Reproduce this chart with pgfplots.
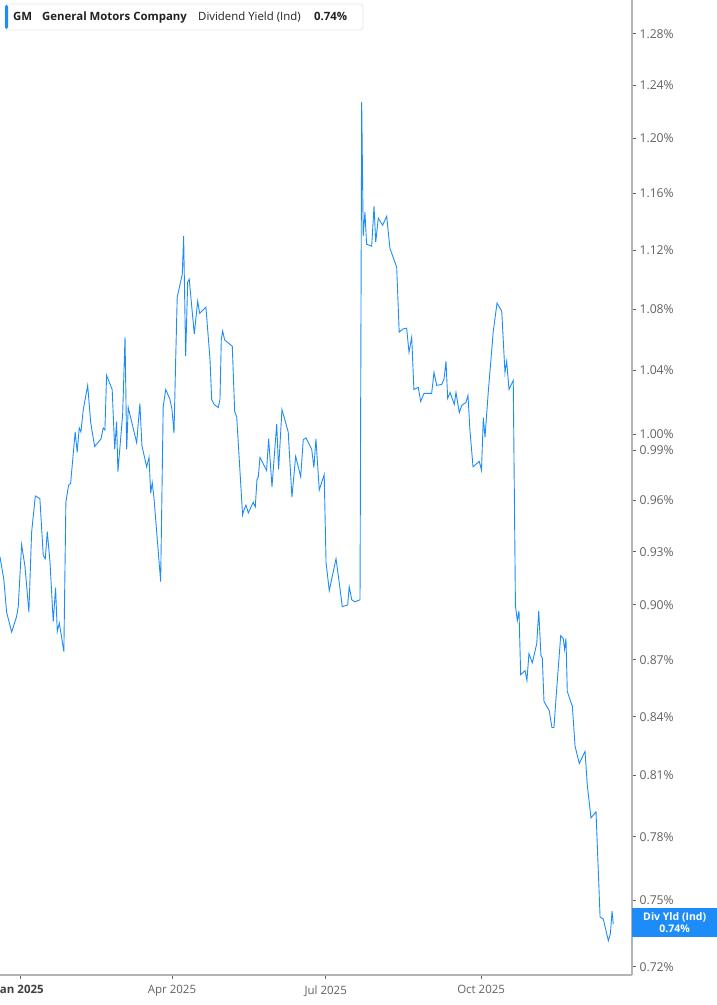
\documentclass[border=0pt]{standalone}
\usepackage{fontspec}
\setmainfont{Open Sans}
\usepackage{pgfplots}
\pgfplotsset{compat=1.18}

\definecolor{gmblue}{HTML}{1E8CF8}
\definecolor{axgray}{HTML}{B4B4B4}
\definecolor{lblgray}{HTML}{626262}
\definecolor{titletext}{HTML}{222222}

\begin{document}
\begin{tikzpicture}
\useasboundingbox (0bp,0bp) rectangle (717bp,1005bp);
\begin{axis}[
  at={(0bp,30bp)}, anchor=south west,
  scale only axis, width=632bp, height=975bp,
  xmin=-11.8, xmax=362.3,
  ymode=log, ymin=0.7163, ymax=1.307,
  axis x line*=bottom, axis y line*=right,
  axis line style={axgray, line width=1.3bp},
  xtick={0,90,181,273},
  xticklabels={{\bfseries\color{black!75}Jan 2025},Apr 2025,Jul 2025,Oct 2025},
  xticklabel style={yshift=-3bp},
  ytick={0.72,0.75,0.78,0.81,0.84,0.87,0.90,0.93,0.96,0.99,1.00,1.04,1.08,1.12,1.16,1.20,1.24,1.28},
  yticklabels={0.72\%,0.75\%,0.78\%,0.81\%,0.84\%,0.87\%,0.90\%,0.93\%,0.96\%,0.99\%,1.00\%,1.04\%,1.08\%,1.12\%,1.16\%,1.20\%,1.24\%,1.28\%},
  yticklabel style={font=\fontsize{12.2bp}{13bp}\selectfont},
  yminorticks=false, xminorticks=false,
  tick style={lblgray, line width=0.8bp},
  major tick length=4bp,
  tick align=outside,
  ticklabel style={font=\fontsize{11.5bp}{13bp}\selectfont, text=lblgray},
]
% dividend yield, % (x = days since 1 Jan 2025)
\addplot[gmblue, line width=0.9bp] coordinates {
(-11.8,0.927) (-9.5,0.914) (-7.9,0.896) (-4.9,0.885) (-2.0,0.8935) (-1.0,0.899)
(1.0,0.934) (3.0,0.9215) (5.3,0.896) (6.9,0.941) (9.1,0.9625) (11.8,0.961)
(13.8,0.928) (15.0,0.926) (16.2,0.9415) (17.8,0.924) (19.7,0.8907) (21.1,0.9096)
(22.1,0.8853) (23.3,0.890) (26.0,0.8744) (27.2,0.9588) (28.8,0.969) (30.0,0.970)
(32.7,1.0013) (33.9,0.9888) (35.1,1.0038) (36.1,1.0013) (37.5,1.0152) (40.1,1.0305)
(41.9,1.007) (44.2,0.9924) (48.0,0.997) (49.3,1.0038) (50.3,1.0025) (51.3,1.0368)
(54.6,1.0279) (56.1,0.9906) (57.2,1.0076) (58.0,0.9771) (60.8,1.012) (62.2,1.0616)
(63.2,0.9906) (64.1,1.0165) (69.1,0.9947) (71.0,1.019) (72.2,0.9929) (75.0,0.980)
(76.4,0.9857) (77.4,0.9643) (78.3,0.9704) (79.3,0.9618) (83.3,0.913) (84.8,1.017)
(86.3,1.0279) (88.8,1.0216) (90.0,1.0152) (91.2,1.0006) (92.2,1.0472) (93.1,1.0881)
(96.1,1.1037) (96.9,1.1298) (98.1,1.0492) (99.3,1.0983) (100.2,1.1003) (103.2,1.0636)
(105.2,1.0854) (106.4,1.0774) (110.1,1.0814) (112.5,1.0472) (113.5,1.0216) (115.0,1.0184)
(117.4,1.0165) (118.4,1.0216) (119.2,1.0603) (120.0,1.0656) (121.2,1.0597) (125.7,1.0557)
(127.1,1.014) (128.3,1.0108) (131.8,0.9513) (132.6,0.9542) (133.8,0.9571) (135.2,0.9525)
(138.1,0.9588) (139.3,0.956) (140.3,0.9722) (141.1,0.974) (142.1,0.9857) (146.0,0.9777)
(147.2,0.9971) (149.2,0.968) (152.0,1.0063) (153.1,0.9784) (155.1,1.0152) (158.8,1.0013)
(161.0,0.9618) (163.2,0.9863) (166.2,0.974) (167.7,0.9965) (169.3,0.9976) (172.7,0.9906)
(174.0,0.9796) (175.2,0.997) (177.2,0.9661) (180.1,0.9753) (181.2,0.9238) (183.1,0.9079)
(187.1,0.926) (189.0,0.9124) (190.8,0.899) (194.0,0.900) (194.9,0.9102) (196.4,0.9028)
(198.3,0.9017) (201.3,0.9028) (202.3,1.2272) (203.2,1.1298) (204.2,1.1467) (205.2,1.1242)
(208.2,1.1228) (209.6,1.1509) (210.6,1.1256) (212.1,1.1424) (214.7,1.1375) (217.1,1.1438)
(219.0,1.1214) (223.0,1.1085) (224.5,1.0649) (226.6,1.0669) (228.9,1.0675) (230.3,1.0518)
(231.9,1.0616) (233.2,1.0279) (235.8,1.0292) (237.2,1.0203) (239.2,1.0254) (243.7,1.0254)
(245.1,1.0387) (246.7,1.0305) (249.6,1.0311) (251.0,1.0343) (252.2,1.0459) (253.2,1.0222)
(254.6,1.026) (257.1,1.0184) (258.1,1.026) (260.1,1.0133) (261.5,1.0178) (264.0,1.0197)
(265.2,1.0241) (266.4,1.0019) (268.2,0.980) (271.9,0.9833) (273.2,0.978) (274.3,1.0102)
(275.3,0.998) (277.2,1.026) (280.2,1.0656) (282.4,1.0841) (285.2,1.0787) (287.1,1.0387)
(288.1,1.0459) (289.5,1.0279) (292.0,1.0337) (293.3,0.8995) (294.4,0.8913) (295.4,0.8967)
(296.4,0.8621) (299.0,0.8642) (300.1,0.859) (301.3,0.8733) (303.3,0.8684) (305.9,0.8787)
(307.1,0.8967) (308.4,0.8722) (309.2,0.8711) (310.2,0.8479) (313.3,0.8432) (314.9,0.8344)
(316.1,0.8344) (317.7,0.8542) (320.1,0.8831) (321.6,0.8815) (322.4,0.8755) (323.2,0.8815)
(324.0,0.8532) (327.0,0.8453) (328.6,0.8248) (331.1,0.8161) (334.5,0.8222) (335.8,0.8056)
(338.0,0.7893) (341.0,0.7922) (343.4,0.7424) (345.3,0.7415) (348.3,0.7316) (349.5,0.7348)
(350.5,0.7451) (351.2,0.7393)
};
\coordinate (lbl) at (axis cs:362.3,0.74);
\end{axis}
\node[fill=gmblue, text=white, anchor=west, minimum width=85bp, minimum height=29bp,
  inner sep=0pt, align=center, font=\bfseries\fontsize{10.5bp}{12bp}\selectfont]
  at (lbl) {Div Yld (Ind)\\0.74\%};
% title box
\draw[rounded corners=3bp, draw=black!10, fill=white, line width=0.8bp] (5bp,975bp) rectangle (363bp,1001bp);
\fill[gmblue, rounded corners=1.5bp] (5bp,976bp) rectangle (8bp,1000bp);
\begin{scope}[every node/.style={anchor=base west, inner sep=0pt, text=titletext,
  font=\fontsize{11.4bp}{13bp}\selectfont}]
\node at (13bp,984.3bp) {\bfseries GM};
\node at (42bp,984.3bp) {\bfseries General Motors Company};
\node at (198bp,984.3bp) {Dividend Yield (Ind)};
\node at (314bp,984.3bp) {\bfseries 0.74\%};
\end{scope}
\end{tikzpicture}
\end{document}
